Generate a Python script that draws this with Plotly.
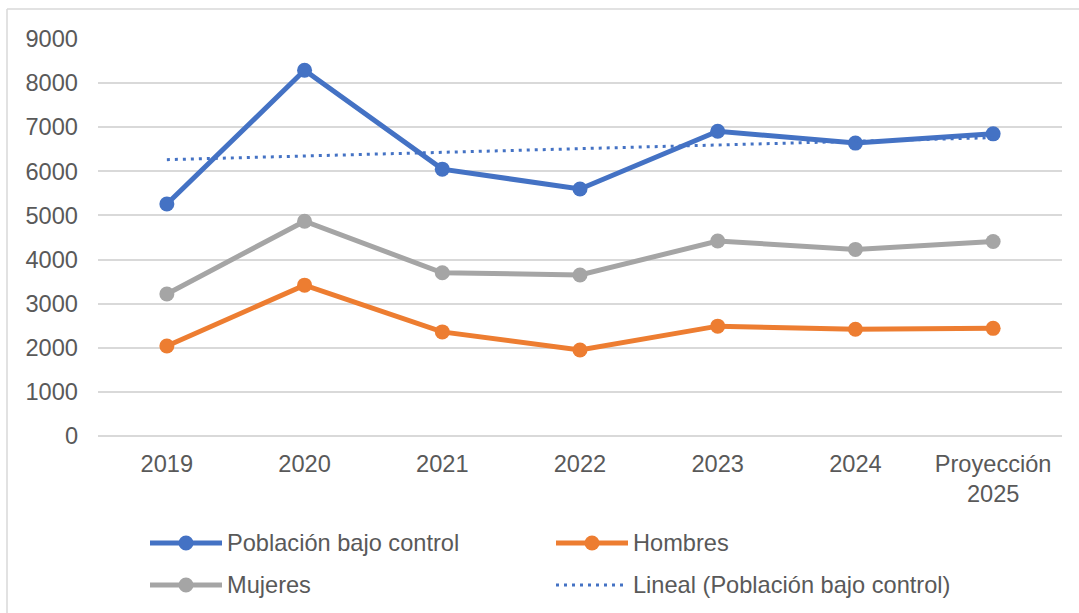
import numpy as np
import plotly.graph_objects as go

# Series data
categorias = ["2019", "2020", "2021", "2022", "2023", "2024", "Proyección<br>2025"]
poblacion = [5260, 8290, 6050, 5600, 6910, 6640, 6850]
hombres = [2040, 3420, 2360, 1950, 2490, 2420, 2440]
mujeres = [3220, 4870, 3700, 3650, 4420, 4230, 4410]
y_ticks = [0, 1000, 2000, 3000, 4000, 5000, 6000, 7000, 8000, 9000]

AZUL = "#4472C4"
NARANJA = "#ED7D31"
GRIS = "#A5A5A5"
TEXTO = "#595959"
REJILLA = "#D9D9D9"
FUENTE = "Liberation Sans, Arial, sans-serif"
TAM = 23.6

W, H = 1079, 613
L, R, T, B = 98, 17, 39, 177
PW, PH = W - L - R, H - T - B

x = list(range(len(categorias)))

# Linear trend of the main series (least squares)
pend, orden = np.polyfit(x, poblacion, 1)
tendencia = [pend * xi + orden for xi in x]

fig = go.Figure()
series = [
    ("Población bajo control", poblacion, AZUL),
    ("Mujeres", mujeres, GRIS),
    ("Hombres", hombres, NARANJA),
]
for nombre, vals, color in series:
    fig.add_trace(go.Scatter(
        x=x, y=vals, name=nombre, mode="lines+markers",
        line=dict(color=color, width=5),
        marker=dict(color=color, size=15),
        showlegend=False,
    ))
fig.add_trace(go.Scatter(
    x=[x[0], x[-1]], y=[tendencia[0], tendencia[-1]],
    name="Lineal (Población bajo control)", mode="lines",
    line=dict(color=AZUL, width=3, dash="3px,5px"),
    showlegend=False,
))


def px_x(px):
    return (px - L) / PW


def px_y(py):
    return (H - B - py) / PH


shapes = []
# Chart frame (top and left edges)
shapes.append(dict(type="line", xref="paper", yref="paper",
                   x0=px_x(7), x1=px_x(W), y0=px_y(9), y1=px_y(9),
                   line=dict(color=REJILLA, width=1.5)))
shapes.append(dict(type="line", xref="paper", yref="paper",
                   x0=px_x(7), x1=px_x(7), y0=px_y(9), y1=px_y(H),
                   line=dict(color=REJILLA, width=1.5)))

annotations = []
# Legend laid out in two columns
leyenda = [
    ("Población bajo control", AZUL, 150, 543, True),
    ("Hombres", NARANJA, 556, 543, True),
    ("Mujeres", GRIS, 150, 585, True),
    ("Lineal (Población bajo control)", AZUL, 556, 585, False),
]
for texto, color, x0, yc, con_marcador in leyenda:
    if con_marcador:
        shapes.append(dict(type="line", xref="paper", yref="paper",
                           x0=px_x(x0), x1=px_x(x0 + 72), y0=px_y(yc), y1=px_y(yc),
                           line=dict(color=color, width=5)))
        shapes.append(dict(type="circle", xref="paper", yref="paper",
                           xsizemode="pixel", ysizemode="pixel",
                           xanchor=px_x(x0 + 36), yanchor=px_y(yc),
                           x0=-7.5, x1=7.5, y0=-7.5, y1=7.5,
                           fillcolor=color, line=dict(width=0)))
    else:
        shapes.append(dict(type="line", xref="paper", yref="paper",
                           x0=px_x(x0), x1=px_x(x0 + 72), y0=px_y(yc), y1=px_y(yc),
                           line=dict(color=color, width=3, dash="3px,5px")))
    annotations.append(dict(text=texto, xref="paper", yref="paper",
                            x=px_x(x0 + 75), y=px_y(yc), xanchor="left", yanchor="middle",
                            showarrow=False, font=dict(size=TAM, color=TEXTO, family=FUENTE)))

fig.update_layout(
    width=W, height=H,
    margin=dict(l=L, r=R, t=T, b=B, autoexpand=False),
    paper_bgcolor="white", plot_bgcolor="white",
    font=dict(family=FUENTE, size=TAM, color=TEXTO),
    shapes=shapes, annotations=annotations,
    showlegend=False,
)
fig.update_xaxes(
    range=[-0.5, len(categorias) - 0.5],
    tickvals=x, ticktext=categorias,
    showgrid=False, zeroline=False, showline=False, ticks="",
    ticklabelstandoff=11,
    tickfont=dict(size=TAM, color=TEXTO),
)
fig.update_yaxes(
    range=[0, 9000], tickvals=y_ticks, ticktext=[str(v) for v in y_ticks],
    showgrid=True, gridcolor=REJILLA, gridwidth=1.5,
    zeroline=True, zerolinecolor=REJILLA, zerolinewidth=1.5,
    showline=False, ticks="", ticklabelstandoff=19,
    tickfont=dict(size=TAM, color=TEXTO),
)

fig.write_html("out.html")
